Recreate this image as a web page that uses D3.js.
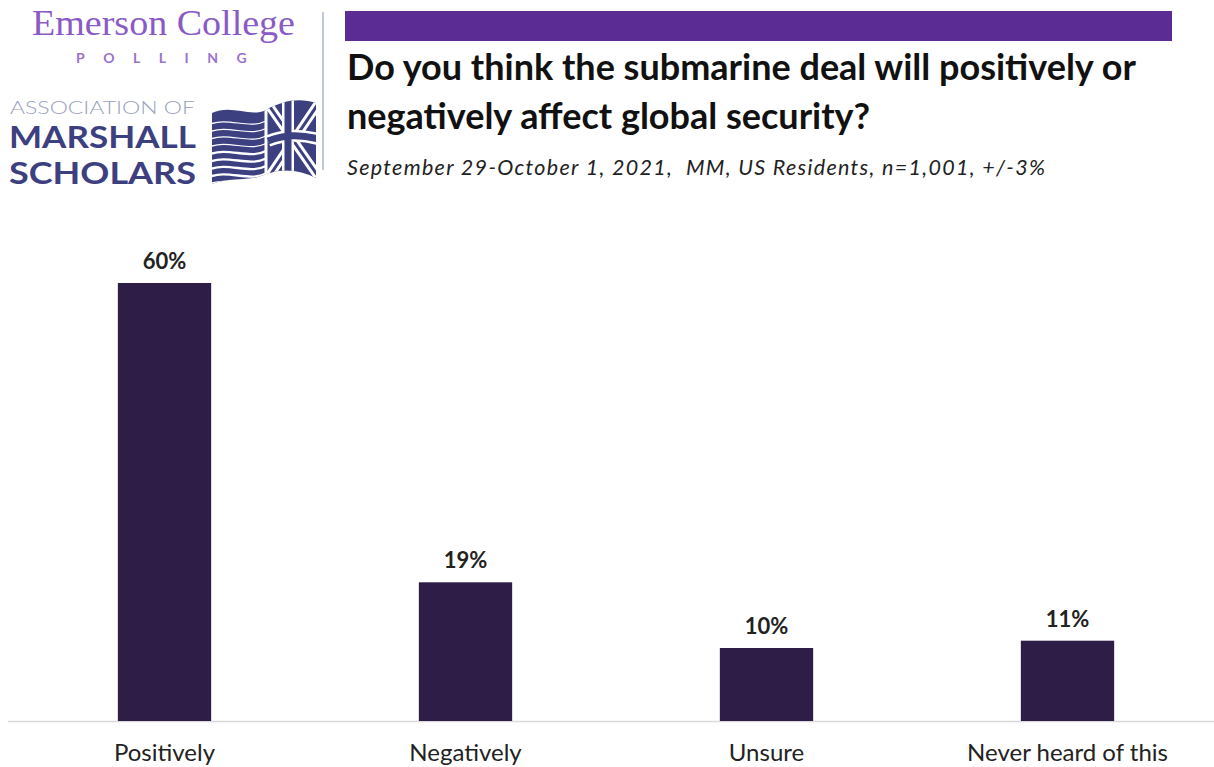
<!DOCTYPE html>
<html>
<head>
<meta charset="utf-8">
<script src="https://cdn.jsdelivr.net/npm/d3@7"></script>
<style>
  html, body { margin: 0; padding: 0; background: #fff; }
  svg { display: block; }
</style>
</head>
<body>
<svg id="chart" width="1214" height="767"></svg>
<script>
const categories = ["Positively", "Negatively", "Unsure", "Never heard of this"];
const values = [60, 19, 10, 11];
const valueLabels = ["60%", "19%", "10%", "11%"];
const titleLines = ["Do you think the submarine deal will positively or", "negatively affect global security?"];
const subtitle = "September 29-October 1, 2021,  MM, US Residents, n=1,001, +/-3%";
const logoLines = ["ASSOCIATION OF", "MARSHALL", "SCHOLARS"];

const svg = d3.select("#chart");
const W = 1214, H = 767;
const sans = "Lato, 'Open Sans', sans-serif";

// ---------- Logo area ----------
const logo = svg.append("g");
logo.append("text").attr("x", 32).attr("y", 35)
  .attr("font-family", "'Liberation Serif', 'DejaVu Serif', serif")
  .attr("font-size", 36).attr("fill", "#8a5bc6")
  .attr("textLength", 263).attr("lengthAdjust", "spacingAndGlyphs").text("Emerson College");
logo.append("text").attr("x", 76).attr("y", 63)
  .attr("font-family", sans).attr("font-weight", 700)
  .attr("font-size", 14).attr("letter-spacing", 18.5).attr("fill", "#9a72cf").text("POLLING");
logo.append("line").attr("x1", 323).attr("x2", 323).attr("y1", 12).attr("y2", 170)
  .attr("stroke", "#aab3cc").attr("stroke-width", 1.5);

const logoStyles = [
  { x: 10, y: 113.5, size: 18, weight: 300, color: "#9aa0c0", width: 185 },
  { x: 9, y: 147.5, size: 30, weight: 700, color: "#3d4080", width: 187 },
  { x: 9, y: 184, size: 30, weight: 700, color: "#3d4080", width: 187 }
];
logo.selectAll("text.ams").data(logoLines).join("text").attr("class", "ams")
  .attr("x", (d, i) => logoStyles[i].x)
  .attr("y", (d, i) => logoStyles[i].y)
  .attr("font-family", sans)
  .attr("font-size", (d, i) => logoStyles[i].size)
  .attr("font-weight", (d, i) => logoStyles[i].weight)
  .attr("fill", (d, i) => logoStyles[i].color)
  .attr("textLength", (d, i) => logoStyles[i].width)
  .attr("lengthAdjust", "spacingAndGlyphs")
  .text(d => d);

// Flag graphic
const flag = logo.append("g");
const navy = "#3d4080";
const defs = svg.append("defs");
const flagPath = "M212,113 C232,104 250,118 266,110 C284,100 300,98 316,103 L316,178 C300,170 284,168 266,174 C250,182 232,176 212,184 Z";
defs.append("clipPath").attr("id", "flagclip").append("path").attr("d", flagPath);
const fg = flag.append("g").attr("clip-path", "url(#flagclip)");
fg.append("rect").attr("x", 205).attr("y", 90).attr("width", 120).attr("height", 100).attr("fill", navy);
for (let i = 0; i < 9; i++) {
  const y0 = 122 + i * 7.5;
  fg.append("path")
    .attr("d", `M208,${y0 + 3} C228,${y0 - 6} 248,${y0 + 8} 266,${y0 - 1}`)
    .attr("fill", "none").attr("stroke", "#fff").attr("stroke-width", i < 4 ? 1.2 : 2.4);
}
fg.append("path").attr("d", "M266,95 L266,190").attr("stroke", "#fff").attr("stroke-width", 3);
fg.append("path").attr("d", "M268,104 L318,176 M318,104 L268,178")
  .attr("stroke", "#fff").attr("stroke-width", 9).attr("fill", "none");
fg.append("path").attr("d", "M268,104 L318,176 M318,104 L268,178")
  .attr("stroke", navy).attr("stroke-width", 3).attr("fill", "none");
fg.append("path").attr("d", "M268,141 C285,134 300,134 318,139 M288,95 L288,190")
  .attr("stroke", "#fff").attr("stroke-width", 12).attr("fill", "none");
fg.append("path").attr("d", "M268,141 C285,134 300,134 318,139 M288,95 L288,190")
  .attr("stroke", navy).attr("stroke-width", 7).attr("fill", "none");

// ---------- Header ----------
svg.append("rect").attr("x", 345).attr("y", 11).attr("width", 827).attr("height", 30).attr("fill", "#5b2c94");
svg.selectAll("text.title").data(titleLines).join("text").attr("class", "title")
  .attr("x", 347).attr("y", (d, i) => 80 + i * 49)
  .attr("font-family", sans).attr("font-weight", 700)
  .attr("font-size", 36).attr("fill", "#111").text(d => d);
svg.append("text").attr("x", 347).attr("y", 175)
  .attr("xml:space", "preserve").style("white-space", "pre")
  .attr("font-family", sans).attr("font-style", "italic")
  .attr("font-size", 21.5).attr("fill", "#222")
  .attr("textLength", 698).attr("lengthAdjust", "spacing").text(subtitle);

// ---------- Chart ----------
const baseY = 721;
const x = d3.scaleBand().domain(categories).range([14, 1218]).paddingInner(0.69).paddingOuter(0.345);
const y = d3.scaleLinear().domain([0, 60]).range([baseY, 283]);

svg.append("line").attr("x1", 8).attr("x2", W).attr("y1", baseY + 0.5).attr("y2", baseY + 0.5)
  .attr("stroke", "#d9d9d9").attr("stroke-width", 1.5);

svg.selectAll("rect.bar").data(values).join("rect").attr("class", "bar")
  .attr("x", (d, i) => x(categories[i]))
  .attr("y", d => y(d))
  .attr("width", x.bandwidth())
  .attr("height", d => baseY - y(d))
  .attr("fill", "#2e1d46");

svg.selectAll("text.val").data(values).join("text").attr("class", "val")
  .attr("x", (d, i) => x(categories[i]) + x.bandwidth() / 2)
  .attr("y", d => y(d) - 14)
  .attr("text-anchor", "middle")
  .attr("font-family", sans).attr("font-weight", 700)
  .attr("font-size", 22).attr("fill", "#222").text((d, i) => valueLabels[i]);

const xAxis = d3.axisBottom(x).tickSize(0).tickPadding(0);
const ax = svg.append("g").attr("transform", `translate(0,${baseY})`).call(xAxis);
ax.select(".domain").remove();
ax.selectAll("text")
  .attr("y", 40).attr("dy", 0)
  .attr("font-family", sans)
  .attr("font-size", 24).attr("fill", "#222");
</script>
</body>
</html>
